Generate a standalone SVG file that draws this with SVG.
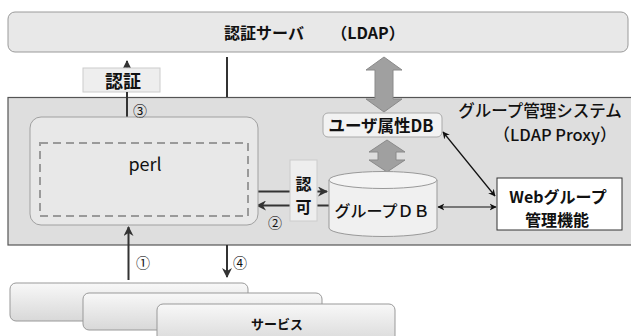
<svg xmlns="http://www.w3.org/2000/svg" width="631" height="336" viewBox="0 0 631 336">
<defs>
<style>
.t{font-family:"Noto Sans CJK JP","Liberation Sans",sans-serif;fill:#111;text-anchor:middle;dominant-baseline:central}
.b{font-weight:bold}
.ln{stroke:#333;stroke-width:2;fill:none}
.thin{stroke:#111;stroke-width:1.2;fill:none}
.big{fill:#a0a0a0;stroke:#8a8a8a;stroke-width:1}
</style>
<linearGradient id="svc" x1="0" y1="0" x2="0" y2="1">
<stop offset="0" stop-color="#f8f8f8"/>
<stop offset="1" stop-color="#d8d8d8"/>
</linearGradient>
<marker id="ah" viewBox="0 0 10 10" refX="9" refY="5" markerWidth="5" markerHeight="5" orient="auto-start-reverse" markerUnits="strokeWidth">
<path d="M0,0 L10,5 L0,10 L3,5 z" fill="#333"/>
</marker>
<marker id="ah2" viewBox="0 0 10 10" refX="9" refY="5" markerWidth="6" markerHeight="6" orient="auto-start-reverse" markerUnits="strokeWidth">
<path d="M0,0 L10,5 L0,10 L3,5 z" fill="#111"/>
</marker>
</defs>

<g id="auth-server">
<rect x="8" y="12" width="620" height="40" rx="7" fill="#e8e8e8" stroke="#9a9a9a"/>
<text class="t b" x="264" y="32" font-size="16">認証サーバ</text>
<text class="t b" x="368" y="32" font-size="16">（LDAP）</text>
</g>

<g id="group-system">
<rect x="8" y="97.5" width="630" height="147.5" fill="#dedede" stroke="#555" stroke-width="1.2"/>
<text class="t" x="540" y="110" font-size="16.5" font-weight="500">グループ管理システム</text>
<text class="t" x="555" y="134" font-size="16.5" font-weight="500">（LDAP Proxy）</text>
</g>

<g id="connectors">
<line class="ln" x1="227" y1="57" x2="227" y2="97"/>
<line class="ln" x1="127" y1="117" x2="127" y2="61" marker-end="url(#ah)"/>
<line class="ln" x1="258" y1="191.5" x2="327" y2="191.5" marker-end="url(#ah)"/>
<line class="ln" x1="329" y1="205.5" x2="257" y2="205.5" marker-end="url(#ah)"/>
<line class="ln" x1="128.5" y1="280" x2="128.5" y2="227" marker-end="url(#ah)"/>
<line class="ln" x1="227" y1="245" x2="227" y2="277" marker-end="url(#ah)"/>
<line class="thin" x1="443" y1="132" x2="495" y2="196" marker-start="url(#ah2)" marker-end="url(#ah2)"/>
<line class="thin" x1="438" y1="207" x2="496" y2="207" marker-start="url(#ah2)" marker-end="url(#ah2)"/>
<polygon class="big" points="384,57 402,70 393,70 393,99 402,99 384,112 366,99 375,99 375,70 366,70"/>
<polygon class="big" points="387,140 405,152 396,152 396,160 405,160 387,172 369,160 378,160 378,152 369,152"/>
</g>

<g id="ninsho-label">
<rect x="83" y="68" width="77" height="24" fill="#eeeeee" stroke="#cccccc"/>
<line class="ln" x1="127" y1="92" x2="127" y2="117"/>
<text class="t b" x="123" y="80" font-size="18">認証</text>
</g>

<g id="perl">
<rect x="30" y="117" width="228" height="108" rx="11" fill="#e8e8e8" stroke="#a0a0a0"/>
<rect x="40" y="143" width="208" height="73" fill="none" stroke="#9a9a9a" stroke-width="2" stroke-dasharray="8,5"/>
<text class="t" x="145" y="163" font-size="18">perl</text>
</g>

<g id="ninka-label">
<rect x="290" y="160" width="27" height="61" fill="#eeeeee" stroke="#cccccc"/>
<text class="t b" x="303.5" y="183" font-size="16">認</text>
<text class="t b" x="303.5" y="206" font-size="16">可</text>
</g>

<g id="user-attr-db">
<rect x="323" y="113" width="119" height="24" rx="5" fill="#f2f2f2" stroke="#aaaaaa"/>
<text class="t b" x="381" y="125" font-size="16.5">ユーザ属性DB</text>
</g>

<g id="group-db">
<path d="M329,180 L329,228 A54,8.5 0 0 0 437,228 L437,180" fill="#f0f0f0" stroke="#999"/>
<ellipse cx="383" cy="180" rx="54" ry="8.5" fill="#f4f4f4" stroke="#999"/>
<text class="t" x="382" y="210" font-size="16" font-weight="500">グループＤＢ</text>
</g>

<g id="web-group">
<rect x="497" y="178" width="125" height="52" fill="#ffffff" stroke="#333"/>
<text class="t b" x="558" y="195.5" font-size="16">Webグループ</text>
<text class="t b" x="557" y="218.5" font-size="16">管理機能</text>
</g>

<g id="labels">
<text class="t" x="140" y="110" font-size="14">③</text>
<text class="t" x="275" y="222" font-size="14">②</text>
<text class="t" x="143" y="262" font-size="14">①</text>
<text class="t" x="240" y="262" font-size="14">④</text>
</g>

<g id="services">
<rect x="10" y="283" width="238" height="38" rx="6" fill="url(#svc)" stroke="#999"/>
<rect x="83" y="293" width="239" height="37" rx="6" fill="url(#svc)" stroke="#999"/>
<rect x="157" y="304" width="238" height="40" rx="6" fill="url(#svc)" stroke="#999"/>
<text class="t b" x="277" y="323" font-size="13">サービス</text>
</g>
</svg>
